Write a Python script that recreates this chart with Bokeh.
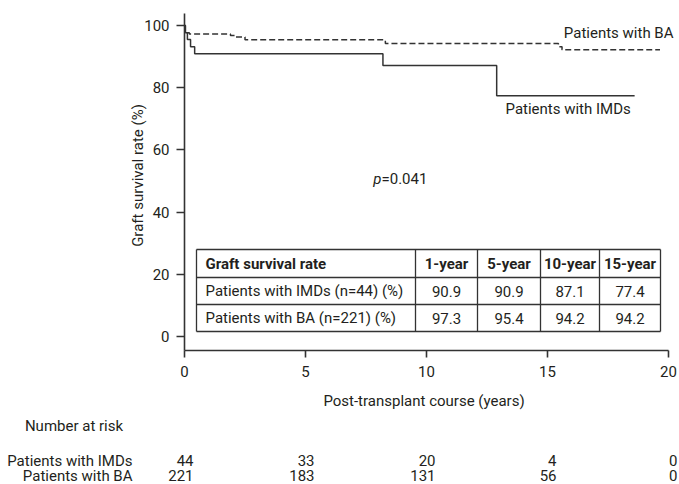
import math
from bokeh.plotting import figure
from bokeh.models import Range1d, FixedTicker
from bokeh.core.properties import value
from bokeh.embed import file_html
from bokeh.resources import INLINE

# ---------------- data ----------------
imd_years = [0, 0.04, 0.12, 0.25, 0.42, 8.2, 12.9, 18.6]
imd_surv = [100, 97.7, 95.5, 93.2, 90.9, 87.1, 77.4, 77.4]

ba_years = [0, 0.03, 0.1, 0.2, 1.9, 2.1, 2.5, 8.3, 15.45, 15.6, 19.65]
ba_surv = [100, 98.2, 97.7, 97.3, 96.8, 96.3, 95.4, 94.2, 93.2, 92.2, 92.2]

x_ticks = [0, 5, 10, 15, 20]
y_ticks = [0, 20, 40, 60, 80, 100]

p_value = "0.041"

table_header = ["Graft survival rate", "1-year", "5-year", "10-year", "15-year"]
table_groups = ["Patients with IMDs (n=44) (%)", "Patients with BA (n=221) (%)"]
imd_rates = ["90.9", "90.9", "87.1", "77.4"]
ba_rates = ["97.3", "95.4", "94.2", "94.2"]

risk_years = [0, 5, 10, 15, 20]
risk_imd = [44, 33, 20, 4, 0]
risk_ba = [221, 183, 131, 56, 0]
risk_groups = ["Patients with IMDs", "Patients with BA"]

# ---------------- style ----------------
FONT = "Roboto"
INK = "#231f20"
LINE = "#333333"
FS = "15px"

W, H = 679, 484
X0_PX, PX_PER_YEAR = 184, 24.2      # screen x of year 0, px per year
Y0_PX, PX_PER_PCT = 336, 3.11       # screen y of 0 %, px per %

def xd(px):   # screen px -> years
    return (px - X0_PX) / PX_PER_YEAR

def yd(py):   # screen px -> percent
    return (Y0_PX - py) / PX_PER_PCT

p = figure(width=W, height=H, title=None,
           x_range=Range1d(xd(0), xd(W)), y_range=Range1d(yd(H), yd(0)),
           min_border=0, output_backend="svg", toolbar_location=None)
p.grid.visible = False
p.outline_line_color = None

axis_y_loc = yd(350)
for ax in (p.xaxis[0], p.yaxis[0]):
    ax.axis_line_color = LINE
    ax.axis_line_width = 1.6
    ax.major_tick_line_color = LINE
    ax.major_tick_line_width = 1.6
    ax.major_tick_in = 0
    ax.minor_tick_out = 0
    ax.minor_tick_in = 0
    ax.major_label_text_font = FONT
    ax.major_label_text_font_size = FS
    ax.major_label_text_color = INK

p.xaxis.ticker = FixedTicker(ticks=x_ticks)
p.yaxis.ticker = FixedTicker(ticks=y_ticks)
p.xaxis.fixed_location = axis_y_loc
p.yaxis.fixed_location = 0
p.xaxis.bounds = (0, 20)
p.yaxis.bounds = (axis_y_loc, yd(13))
p.xaxis.major_tick_out = 7
p.yaxis.major_tick_out = 8
p.xaxis.major_label_standoff = 8
p.yaxis.major_label_standoff = 7

def txt(x, y, t, align="left", style="normal", angle=0.0, x_offset=0):
    p.text(x=x, y=y, text=t, text_align=align, text_baseline="middle", angle=angle,
           x_offset=x_offset, text_font=value(FONT), text_font_size=FS,
           text_color=INK, text_font_style=style)

# axis titles
txt([xd(423.5)], [yd(400)], ["Post-transplant course (years)"], align="center")
txt([xd(137)], [yd(175)], ["Graft survival rate (%)"], align="center", angle=math.pi / 2)

# curves
p.step(imd_years, imd_surv, mode="after", line_color=LINE, line_width=1.5)
p.step(ba_years, ba_surv, mode="after", line_color=LINE, line_width=1.5, line_dash="6 3")

# curve labels and p value
txt([xd(673)], [yd(32)], ["Patients with BA"], align="right")
txt([xd(505)], [yd(108)], ["Patients with IMDs"])
txt([xd(381)], [yd(178)], ["p"], align="right", style="italic")
txt([xd(381)], [yd(178)], ["=" + p_value])

# ---------------- in-plot table ----------------
col_edges = [xd(v) for v in (196, 415, 477, 540, 599, 660)]
row_edges = [yd(v) for v in (249, 277, 304, 331)]

p.segment(x0=[col_edges[0]] * len(row_edges), x1=[col_edges[-1]] * len(row_edges),
          y0=row_edges, y1=row_edges, line_color=LINE, line_width=1.3)
p.segment(x0=col_edges, x1=col_edges, y0=[row_edges[0]] * len(col_edges),
          y1=[row_edges[-1]] * len(col_edges), line_color=LINE, line_width=1.3)

row_mid = [(row_edges[i] + row_edges[i + 1]) / 2 for i in range(3)]
col_mid = [(col_edges[i] + col_edges[i + 1]) / 2 for i in range(5)]
left_text = col_edges[0] + 9 / PX_PER_YEAR

txt([left_text], [row_mid[0]], [table_header[0]], style="bold")
txt(col_mid[1:], [row_mid[0]] * 4, table_header[1:], align="center", style="bold")
txt([left_text] * 2, row_mid[1:], table_groups)
txt(col_mid[1:] * 2, [row_mid[1]] * 4 + [row_mid[2]] * 4, imd_rates + ba_rates, align="center")

# ---------------- number at risk ----------------
txt([xd(73.5)], [yd(425)], ["Number at risk"], align="center")
txt([xd(132)] * 2, [yd(460), yd(475)], risk_groups, align="right")
txt(risk_years, [yd(460)] * len(risk_years), [str(v) for v in risk_imd], align="right", x_offset=9)
txt(risk_years, [yd(475)] * len(risk_years), [str(v) for v in risk_ba], align="right", x_offset=9)

open("out.html", "w").write(file_html(p, INLINE))
